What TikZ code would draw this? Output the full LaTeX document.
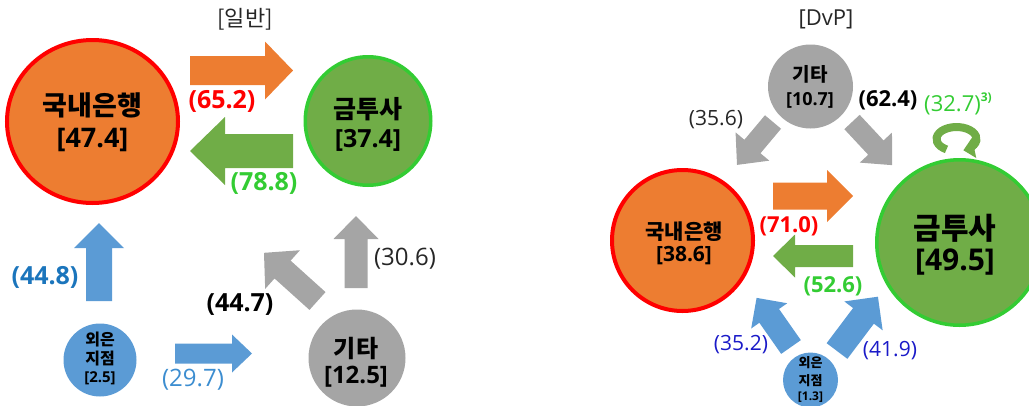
\documentclass[tikz,border=0pt]{standalone}
\usepackage{fontspec}
\setmainfont{Open Sans}
\newfontfamily\kr{Noto Sans CJK KR}
\usetikzlibrary{shapes.geometric,arrows.meta}
\definecolor{cOrange}{HTML}{ED7D31}
\definecolor{cRed}{HTML}{FF0000}
\definecolor{cGreen}{HTML}{70AD47}
\definecolor{cLGreen}{HTML}{33CC33}
\definecolor{cGray}{HTML}{A5A5A5}
\definecolor{cBlue}{HTML}{5B9BD5}
\definecolor{tBlueA}{HTML}{1B75BC}
\definecolor{tBlueB}{HTML}{3C8DD0}
\definecolor{tBlueC}{HTML}{1A1AC8}
\definecolor{tDark}{HTML}{262626}
\newcommand\barrow[7]{%
  \begin{scope}[shift={#2},rotate=#3]
    \fill[#1] (0,-#5) -- ({#4-#7},-#5) -- ({#4-#7},-#6) -- (#4,0) -- ({#4-#7},#6) -- ({#4-#7},#5) -- (0,#5) -- cycle;
  \end{scope}}
\newcommand\fs[1]{\fontsize{#1}{#1}\selectfont}
\tikzset{
  bubble/.style={ellipse, inner sep=0},
  lab/.style={inner sep=0, anchor=center},
}
\begin{document}
\begin{tikzpicture}[x=1pt,y=-1pt]
\useasboundingbox (0,0) rectangle (1029,405);
% ---------- left panel ----------
\node[lab, text=tDark, font=\kr\fs{22}] (t1) at (245,19) {[일반]};
\node[bubble, fill=cOrange, draw=cRed, line width=4pt, minimum width=171pt, minimum height=163pt] (kb1) at (92.5,121.5) {};
\node[bubble, fill=cGreen, draw=cLGreen, line width=3.5pt, minimum width=125.5pt, minimum height=128.5pt] (gt1) at (368,121) {};
\node[bubble, fill=cBlue, minimum width=73pt, minimum height=73pt] (fb1) at (100,360) {};
\node[bubble, fill=cGray, minimum width=97pt, minimum height=97pt] (et1) at (357,358) {};

\node[lab, font=\kr\bfseries\fs{27}] (kb1a) at (92.5,105) {국내은행};
\node[lab, font=\bfseries\fs{27}] (kb1b) at (92.5,140) {[47.4]};
\node[lab, font=\kr\bfseries\fs{25}] (gt1a) at (368,109) {금투사};
\node[lab, font=\bfseries\fs{25}] (gt1b) at (368,140) {[37.4]};
\node[lab, font=\kr\bfseries\fs{16}] (fb1a) at (100,340) {외은};
\node[lab, font=\kr\bfseries\fs{16}] (fb1b) at (100,359) {지점};
\node[lab, font=\bfseries\fs{15}] (fb1c) at (100,378) {[2.5]};
\node[lab, font=\kr\bfseries\fs{24}] (et1a) at (356,349) {기타};
\node[lab, font=\bfseries\fs{24}] (et1b) at (356,377) {[12.5]};

\barrow{cOrange}{(190,70.5)}{0}{103}{14.5}{29}{28}
\barrow{cGreen}{(293,151)}{180}{103}{17}{34}{35}
\barrow{cBlue}{(99,301)}{90}{78}{13}{25}{25}
\barrow{cBlue}{(175,353.5)}{0}{77}{10}{19}{20}
\barrow{cGray}{(317.5,301)}{138}{72}{12}{26}{25}
\barrow{cGray}{(356,288)}{90}{72}{11.5}{22.5}{23}

\node[lab, text=cRed, font=\bfseries\fs{25}] (v1) at (222,101) {(65.2)};
\node[lab, text=cLGreen, font=\bfseries\fs{25}] (v2) at (264,183) {(78.8)};
\node[lab, text=tBlueA, font=\bfseries\fs{25}] (v3) at (45,277) {(44.8)};
\node[lab, text=tBlueB, font=\fs{24}] (v4) at (193,380) {(29.7)};
\node[lab, text=black, font=\bfseries\fs{25}] (v5) at (240,305) {(44.7)};
\node[lab, text=tDark, font=\fs{24}] (v6) at (405,259) {(30.6)};

% ---------- right panel ----------
\node[lab, text=tDark, font=\fs{22}] (t2) at (826,19) {[DvP]};
\node[bubble, fill=cGray, minimum width=85pt, minimum height=84pt] (et2) at (810.5,86.5) {};
\node[bubble, fill=cOrange, draw=cRed, line width=4pt, minimum width=141pt, minimum height=141pt] (kb2) at (682.5,240.5) {};
\node[bubble, fill=cGreen, draw=cLGreen, line width=3.5pt, minimum width=165.5pt, minimum height=165.5pt] (gt2) at (959.5,242.5) {};
\node[bubble, fill=cBlue, minimum width=55pt, minimum height=55pt] (fb2) at (810.5,380) {};

\node[lab, font=\kr\bfseries\fs{19}] (et2a) at (810,74) {기타};
\node[lab, font=\bfseries\fs{18}] (et2b) at (810,100) {[10.7]};
\node[lab, font=\kr\bfseries\fs{21}] (kb2a) at (684,232) {국내은행};
\node[lab, font=\bfseries\fs{21}] (kb2b) at (684,256) {[38.6]};
\node[lab, font=\kr\bfseries\fs{30}] (gt2a) at (955,228) {금투사};
\node[lab, font=\bfseries\fs{30}] (gt2b) at (955,262) {[49.5]};
\node[lab, font=\kr\bfseries\fs{13}] (fb2a) at (810.5,363) {외은};
\node[lab, font=\kr\bfseries\fs{13}] (fb2b) at (810.5,381) {지점};
\node[lab, font=\bfseries\fs{12}] (fb2c) at (810.5,397) {[1.3]};

\barrow{cOrange}{(773,196)}{0}{80}{13.5}{26}{26}
\barrow{cGreen}{(853,256)}{180}{80}{11}{21.5}{22}
\barrow{cGray}{(773,122)}{230}{56}{10.5}{22}{24}
\barrow{cGray}{(852,122)}{-47}{59}{10.5}{22}{24}
\barrow{cBlue}{(791,347)}{125}{60}{12}{22}{22}
\barrow{cBlue}{(837,351)}{53}{68}{13}{24}{24}

\draw[cGreen, line width=8pt, -{Triangle[width=20pt,length=11pt]}]
  ([shift={(240:20pt and 12pt)}]956.5,139) arc[start angle=240, end angle=-70, x radius=20pt, y radius=12pt];

\node[lab, text=tDark, font=\fs{21}] (w1) at (716,120) {(35.6)};
\node[lab, text=black, font=\bfseries\fs{22}] (w2) at (888,100) {(62.4)};
\node[lab, text=cLGreen, font=\fs{22}] (w3) at (958,104) {(32.7)\raisebox{0.45em}{\bfseries\fs{12}3)}};
\node[lab, text=cRed, font=\bfseries\fs{22}] (w4) at (789,226) {(71.0)};
\node[lab, text=cLGreen, font=\bfseries\fs{22}] (w5) at (833,286) {(52.6)};
\node[lab, text=tBlueC, font=\fs{21}] (w6) at (741,345) {(35.2)};
\node[lab, text=tBlueC, font=\fs{21}] (w7) at (890,351) {(41.9)};
\end{tikzpicture}
\end{document}
